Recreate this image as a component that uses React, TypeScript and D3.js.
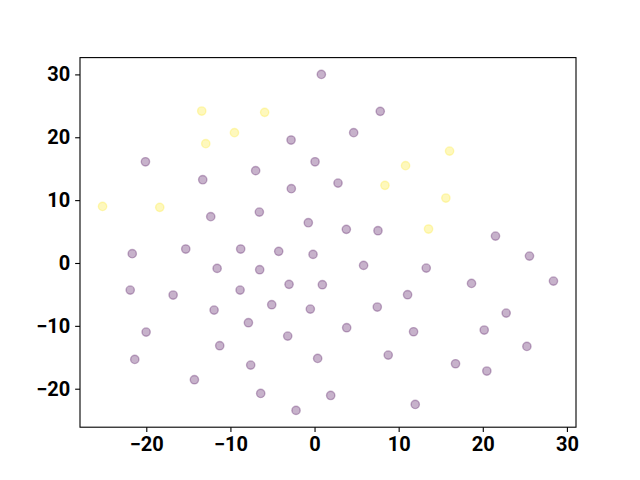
import React, { useEffect, useRef } from 'react';
import * as d3 from 'd3';

// Point coordinates, split by class (0 = purple, 1 = yellow)
const xClass0 = [0.81, 7.81, 4.65, -2.79, -20.1, 0.06, -7.0, -13.29, 2.79, -2.76, -12.34, -6.56, -0.74, 3.78, 7.54, 21.51,
    -21.67, -15.31, -8.78, -4.26, -0.18, -11.58, -6.52, 5.83, 13.28, 25.55, 28.4, 18.66, -21.91, -16.81, -8.85, -3.03, 0.93,
    11.06, -11.94, -5.09, -0.5, 7.46, 22.78, -20.02, -7.86, -3.19, 3.82, 11.77, 20.17, -11.27, 25.24, -21.37, 0.37, 8.76,
    -7.59, 16.76, 20.48, -14.28, -6.4, 1.92, 11.97, -2.2];
const yClass0 = [30.0, 24.12, 20.73, 19.56, 16.1, 16.1, 14.69, 13.25, 12.71, 11.82, 7.37, 8.1, 6.41, 5.35, 5.13, 4.28,
    1.48, 2.22, 2.22, 1.85, 1.37, -0.86, -1.07, -0.38, -0.81, 1.1, -2.88, -3.25, -4.31, -5.1, -4.31, -3.4, -3.46,
    -5.05, -7.49, -6.64, -7.33, -7.01, -7.97, -10.99, -9.5, -11.63, -10.3, -10.94, -10.67, -13.16, -13.27, -15.34, -15.18, -14.65,
    -16.24, -16.03, -17.19, -18.57, -20.75, -21.07, -22.5, -23.45];
const xClass1 = [-13.41, -5.93, -9.52, -12.93, 16.05, 10.82, 8.37, 15.61, -25.2, -18.4, 13.55];
const yClass1 = [24.17, 23.96, 20.73, 18.98, 17.8, 15.48, 12.35, 10.33, 9.0, 8.85, 5.4];

const xTicks = [-20, -10, 0, 10, 20, 30];
const yTicks = [-20, -10, 0, 10, 20, 30];

const App = () => {
    const ref = useRef<SVGSVGElement>(null);

    useEffect(() => {
        if (!ref.current) return;
        const svg = d3.select(ref.current);
        svg.selectAll('*').remove();

        const W = 640, H = 480;
        const margin = { left: 80, right: 64, top: 57.6, bottom: 52.8 };
        const w = W - margin.left - margin.right;
        const h = H - margin.top - margin.bottom;

        const points = [
            ...xClass0.map((x, i) => ({ x, y: yClass0[i], c: 0 })),
            ...xClass1.map((x, i) => ({ x, y: yClass1[i], c: 1 })),
        ];

        // matplotlib-style 5% padding around the data extent
        const pad = (ext: [number, number]) => {
            const d = (ext[1] - ext[0]) * 0.05;
            return [ext[0] - d, ext[1] + d];
        };
        const x = d3.scaleLinear().domain(pad(d3.extent(points, d => d.x) as [number, number])).range([0, w]);
        const y = d3.scaleLinear().domain(pad(d3.extent(points, d => d.y) as [number, number])).range([h, 0]);
        const color = (c: number) => d3.interpolateViridis(c);

        const g = svg.append('g').attr('transform', `translate(${margin.left},${margin.top})`);

        // fill and edge get their alpha separately, so the edge reads a bit darker
        g.selectAll('circle')
            .data(points)
            .enter()
            .append('circle')
            .attr('cx', d => x(d.x))
            .attr('cy', d => y(d.y))
            .attr('r', 4.17)
            .attr('fill', d => color(d.c))
            .attr('fill-opacity', 0.3)
            .attr('stroke', d => color(d.c))
            .attr('stroke-opacity', 0.3)
            .attr('stroke-width', 1.39);

        const font = 'Roboto, sans-serif';
        const fmt = (d: d3.NumberValue) => d3.format('d')(d as number).replace('-', '\u2212');

        const xAxis = g.append('g')
            .attr('transform', `translate(0,${h})`)
            .call(d3.axisBottom(x).tickValues(xTicks).tickSize(4.86).tickPadding(4.86).tickFormat(fmt));
        const yAxis = g.append('g')
            .call(d3.axisLeft(y).tickValues(yTicks).tickSize(4.86).tickPadding(4.86).tickFormat(fmt));

        [xAxis, yAxis].forEach(a => {
            a.select('.domain').remove();
            a.selectAll('line').attr('stroke', '#000').attr('stroke-width', 1.1);
            a.selectAll('text')
                .attr('fill', '#000')
                .style('font-family', font)
                .style('font-size', '20px')
                .style('font-weight', 'bold');
        });

        // axes frame
        g.append('rect')
            .attr('width', w)
            .attr('height', h)
            .attr('fill', 'none')
            .attr('stroke', '#000')
            .attr('stroke-width', 1.1);
    }, []);

    return (
        <svg ref={ref} width={640} height={480}
            style={{ position: 'absolute', left: 0, top: 0, background: '#fff' }} />
    );
};

export default App;
